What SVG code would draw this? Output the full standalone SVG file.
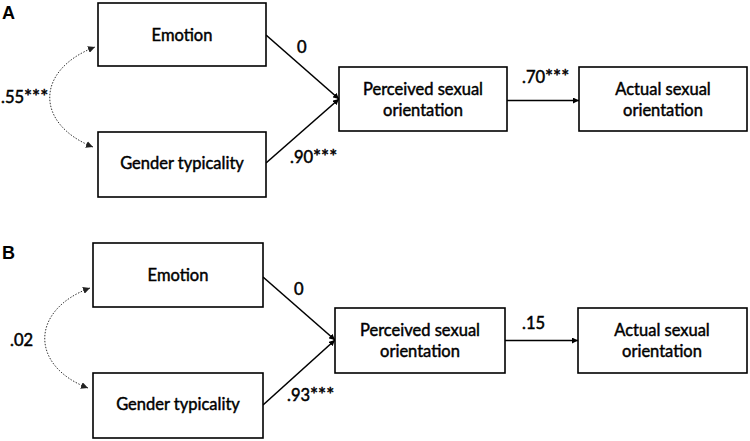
<svg xmlns="http://www.w3.org/2000/svg" width="750" height="441" viewBox="0 0 750 441">
<style>
.box{fill:#fff;stroke:#000;stroke-width:1.6}
.t{font-family:Lato,"Liberation Sans",sans-serif;font-size:16.5px;fill:#000;stroke:#000;stroke-width:0.45;text-anchor:middle}
.lab{font-family:Lato,"Liberation Sans",sans-serif;font-size:16.5px;fill:#000;stroke:#000;stroke-width:0.5}
.st{font-size:19px}
.panel{font-family:"Liberation Sans",Arial,sans-serif;font-size:18px;font-weight:bold;fill:#000}
.path{fill:none;stroke:#000;stroke-width:1.6}
.cov{fill:none;stroke:#333;stroke-width:1;stroke-dasharray:1.5 1.5}
</style>
<defs>
<marker id="ah" viewBox="0 0 10 10" refX="10" refY="5" markerWidth="6" markerHeight="6" markerUnits="userSpaceOnUse" orient="auto"><path d="M0,0 L10,5 L0,10 z" fill="#000"/></marker>
<marker id="ahs" viewBox="0 0 10 10" refX="10" refY="5" markerWidth="7" markerHeight="7" markerUnits="userSpaceOnUse" orient="auto-start-reverse"><path d="M0,0 L10,5 L0,10 z" fill="#222"/></marker>
</defs>
<text class="panel" x="2" y="19">A</text>
<text class="panel" x="2" y="259">B</text>
<g id="connectors">
<path class="path" d="M266,35 L339,99" marker-end="url(#ah)"/>
<path class="path" d="M266,163 L339,99" marker-end="url(#ah)"/>
<path class="path" d="M507,100.5 L579,100.5" marker-end="url(#ah)"/>
<path class="cov" d="M93,147 C35,124 35,70 95,47" marker-start="url(#ahs)" marker-end="url(#ahs)"/>
<path class="path" d="M263,277 L335,340" marker-end="url(#ah)"/>
<path class="path" d="M263,405 L335,340" marker-end="url(#ah)"/>
<path class="path" d="M505,340.5 L578,340.5" marker-end="url(#ah)"/>
<path class="cov" d="M88,388 C30,366 30,310 90,288" marker-start="url(#ahs)" marker-end="url(#ahs)"/>
<text class="lab" x="297" y="53">0</text>
<text class="lab" x="290" y="163">.90<tspan class="st">***</tspan></text>
<text class="lab" x="522" y="83">.70<tspan class="st">***</tspan></text>
<text class="lab" x="1" y="103">.55<tspan class="st">***</tspan></text>
<text class="lab" x="294" y="295">0</text>
<text class="lab" x="287" y="401">.93<tspan class="st">***</tspan></text>
<text class="lab" x="522" y="329">.15</text>
<text class="lab" x="10" y="346">.02</text>
</g>
<g id="a-emotion"><rect class="box" x="98" y="3" width="168" height="63"/><text class="t" x="182" y="41">Emotion</text></g>
<g id="a-gender"><rect class="box" x="98" y="132" width="168" height="65"/><text class="t" x="182" y="169">Gender typicality</text></g>
<g id="a-perceived"><rect class="box" x="339" y="67" width="168" height="64"/><text class="t" x="423" y="95">Perceived sexual</text><text class="t" x="423" y="116">orientation</text></g>
<g id="a-actual"><rect class="box" x="579" y="67" width="168" height="64"/><text class="t" x="663" y="95">Actual sexual</text><text class="t" x="663" y="116">orientation</text></g>
<g id="b-emotion"><rect class="box" x="93" y="243" width="170" height="64"/><text class="t" x="178" y="281">Emotion</text></g>
<g id="b-gender"><rect class="box" x="93" y="373" width="170" height="65"/><text class="t" x="178" y="410">Gender typicality</text></g>
<g id="b-perceived"><rect class="box" x="335" y="308" width="170" height="65"/><text class="t" x="420" y="336">Perceived sexual</text><text class="t" x="420" y="357">orientation</text></g>
<g id="b-actual"><rect class="box" x="578" y="308" width="169" height="65"/><text class="t" x="662" y="336">Actual sexual</text><text class="t" x="662" y="357">orientation</text></g>
</svg>
